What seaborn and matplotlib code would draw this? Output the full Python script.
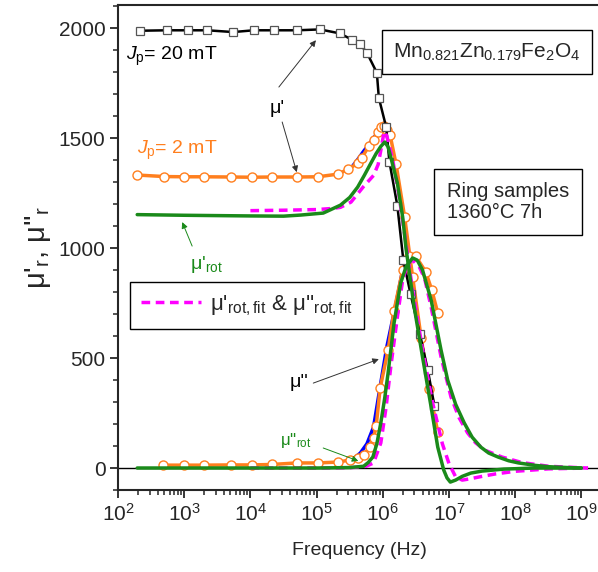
import numpy as np
import matplotlib
matplotlib.use("Agg")
import matplotlib.pyplot as plt
import matplotlib.ticker as ticker
import seaborn as sns

# frequencies are given as log10(f / Hz)
# Jp = 20 mT, mu' (black squares)
logf_20 = [2.33, 2.74, 3.05, 3.35, 3.74, 4.05, 4.35, 4.71, 5.05, 5.35, 5.53, 5.66, 5.76,
           5.91, 5.94, 6.05, 6.10, 6.22, 6.31, 6.42, 6.56, 6.68, 6.78]
mu1_20 = [1988, 1990, 1990, 1990, 1982, 1990, 1990, 1990, 1994, 1976, 1948, 1926, 1888,
          1797, 1683, 1551, 1392, 1192, 945, 790, 610, 445, 282]

# Jp = 2 mT (orange circles)
logf_2a = [2.29, 2.70, 3.00, 3.30, 3.70, 4.02, 4.32, 4.70, 5.02, 5.32, 5.48, 5.62, 5.68,
           5.79, 5.86, 5.93, 5.97, 6.02, 6.07, 6.11, 6.20, 6.33, 6.45, 6.58, 6.70, 6.83]
mu1_2 = [1332, 1325, 1324, 1324, 1323, 1322, 1323, 1323, 1324, 1336, 1359, 1386, 1409,
         1464, 1491, 1527, 1550, 1555, 1536, 1514, 1382, 1141, 870, 590, 360, 164]
logf_2b = [2.68, 3.00, 3.30, 3.70, 4.02, 4.32, 4.70, 5.02, 5.32, 5.50, 5.62, 5.71, 5.80,
           5.86, 5.90, 5.96, 6.08, 6.17, 6.30, 6.39, 6.50, 6.65, 6.74, 6.83]
mu2_2 = [13, 13, 13, 14, 14, 16, 23, 23, 27, 36, 45, 59, 95,
         135, 190, 364, 536, 716, 900, 965, 962, 891, 809, 705]

# blue curve, mostly hidden under the orange one
logf_b1 = [5.55, 5.62, 5.71, 5.80, 5.86, 5.92]
mu1_b = [1375, 1402, 1440, 1475, 1500, 1525]
logf_b2 = [5.55, 5.66, 5.76, 5.86, 5.96, 6.06, 6.21, 6.30, 6.36]
mu2_b = [40, 68, 110, 186, 370, 550, 764, 900, 960]

# rotational contribution (green)
logf_rot1 = [2.29, 3.0, 4.0, 4.5, 4.76, 5.1, 5.36, 5.5, 5.62, 5.72, 5.82, 5.9, 5.97, 6.03,
             6.08, 6.12, 6.22, 6.30, 6.35, 6.47, 6.60, 6.73, 6.83, 6.92, 6.97, 7.02, 7.1,
             7.2, 7.33, 7.5, 7.83, 8.3, 8.7, 9.0]
mu1_rot = [1152, 1149, 1146, 1145, 1150, 1159, 1195, 1230, 1277, 1330, 1386, 1430, 1462, 1482,
           1460, 1414, 1295, 1141, 1000, 740, 505, 277, 95, -9, -45, -64, -55,
           -38, -23, -14, -5, 0, 0, 0]
logf_rot2 = [2.29, 4.0, 5.0, 5.5, 5.71, 5.78, 5.85, 5.91, 5.97, 6.03, 6.08, 6.17, 6.27, 6.35,
             6.45, 6.52, 6.6, 6.73, 6.88, 6.98, 7.1, 7.23, 7.35, 7.48, 7.6, 7.74, 7.9, 8.05,
             8.3, 8.5, 8.8, 9.0]
mu2_rot = [0, 0, 0, 2, 8, 25, 50, 110, 205, 320, 432, 659, 841, 914,
           955, 945, 900, 764, 536, 400, 290, 205, 140, 95, 68, 50, 33, 23,
           12, 6, 2, 0]

# fit of the rotational contribution (magenta dashed)
logf_fit1 = [4.0, 4.5, 5.0, 5.24, 5.36, 5.52, 5.71, 5.86, 5.93, 5.98, 6.02, 6.06, 6.15, 6.25,
             6.35, 6.45, 6.6, 6.75, 6.9, 7.0, 7.1, 7.2, 7.3, 7.5, 7.7, 8.0, 8.5, 9.1]
mu1_fit = [1170, 1172, 1175, 1180, 1185, 1209, 1280, 1330, 1380, 1460, 1530, 1510, 1400, 1230,
           1020, 810, 540, 300, 110, 20, -40, -55, -50, -38, -27, -15, -4, 0]
logf_fit2 = [4.0, 5.0, 5.5, 5.75, 5.86, 5.97, 6.05, 6.12, 6.22, 6.30, 6.38, 6.45, 6.55, 6.63,
             6.73, 6.88, 7.03, 7.15, 7.28, 7.4, 7.55, 7.8, 8.1, 8.5, 9.0, 9.1]
mu2_fit = [0, 0, 1, 8, 23, 114, 277, 459, 686, 855, 930, 945, 915, 864,
           732, 505, 323, 230, 160, 115, 80, 50, 25, 8, 1, 0]

sns.set_style("ticks")
plt.rcParams['font.family'] = ['Liberation Sans', 'DejaVu Sans']
plt.rcParams['mathtext.fontset'] = 'custom'
plt.rcParams['mathtext.rm'] = 'Liberation Sans'
plt.rcParams['mathtext.it'] = 'Liberation Sans:italic'
plt.rcParams['mathtext.default'] = 'regular'

ORANGE = "#ff7f1e"
GREEN = "#1a8a1a"
MAGENTA = "#ff00ff"

fig = plt.figure(figsize=(5.98, 5.72), dpi=100)
ax = fig.add_axes([118 / 598, 82 / 572, 482 / 598, 485 / 572])


def hz(logs):
    return 10 ** np.array(logs)


def line(x, y, **kw):
    sns.lineplot(x=hz(x), y=y, ax=ax, sort=False, estimator=None, legend=False, **kw)


ax.axhline(0, color="black", lw=1, zorder=1)

line(logf_b1, mu1_b, color="blue", lw=2.5, zorder=2)
line(logf_b2, mu2_b, color="blue", lw=2.5, zorder=2)

circ = dict(marker="o", ms=6.5, mfc="white", mec=ORANGE, mew=1)
line(logf_2a, mu1_2, color=ORANGE, lw=2.5, zorder=3, **circ)
line(logf_2b, mu2_2, color=ORANGE, lw=2.5, zorder=3, **circ)

line(logf_20, mu1_20, color="black", lw=1.8, zorder=4,
     marker="s", ms=5.5, mfc="white", mec="#555555", mew=0.9)

line(logf_fit1, mu1_fit, color=MAGENTA, lw=2.5, ls=(0, (2.5, 1.6)), zorder=5)
line(logf_fit2, mu2_fit, color=MAGENTA, lw=2.5, ls=(0, (2.5, 1.6)), zorder=5)

line(logf_rot1, mu1_rot, color=GREEN, lw=2.5, zorder=6)
line(logf_rot2, mu2_rot, color=GREEN, lw=2.5, zorder=6)

ax.set_xscale("log")
ax.set_xlim(1e2, 10 ** (2 + 482 / 66.2))
ax.set_ylim(-100, 2105)
ax.xaxis.set_major_locator(ticker.LogLocator(base=10, numticks=12))
ax.xaxis.set_minor_locator(ticker.LogLocator(base=10, subs=np.arange(2, 10), numticks=12))
ax.xaxis.set_minor_formatter(ticker.NullFormatter())
ax.yaxis.set_major_locator(ticker.MultipleLocator(500))
ax.yaxis.set_minor_locator(ticker.MultipleLocator(100))
ax.tick_params(which="major", direction="out", length=6, width=1.3, labelsize=15, pad=3)
ax.tick_params(which="minor", direction="out", length=3.5, width=1.1)
for s in ax.spines.values():
    s.set_linewidth(1.5)
ax.spines["right"].set_visible(False)

ax.set_xlabel("Frequency (Hz)", fontsize=14, labelpad=13)
ax.set_ylabel("μ'$_r$, μ''$_r$", fontsize=21, labelpad=4)

# annotations
ax.text(10 ** 2.12, 1870, "$\\mathit{J}_p$= 20 mT", fontsize=14, color="black", va="center")
ax.text(10 ** 2.29, 1445, "$\\mathit{J}_p$= 2 mT", fontsize=14, color=ORANGE, va="center")
ax.text(10 ** 4.40, 1636, "μ'", fontsize=14, color="black", ha="center", va="center")
ax.text(10 ** 3.09, 923, "μ'$_{rot}$", fontsize=14, color=GREEN, va="center")
ax.text(10 ** 4.60, 391, "μ''", fontsize=14, color="black", va="center")
ax.text(10 ** 4.45, 127, "μ''$_{rot}$", fontsize=12, color=GREEN, va="center")

arr = dict(arrowstyle="-|>", color="#333333", lw=0.7, mutation_scale=9, shrinkA=0, shrinkB=0)
ax.annotate("", xy=(10 ** 4.99, 1945), xytext=(10 ** 4.43, 1732), arrowprops=arr)
ax.annotate("", xy=(10 ** 4.70, 1345), xytext=(10 ** 4.48, 1573), arrowprops=arr)
ax.annotate("", xy=(10 ** 5.94, 495), xytext=(10 ** 4.95, 386), arrowprops=arr)
arr_g = dict(arr, color=GREEN)
ax.annotate("", xy=(10 ** 2.97, 1118), xytext=(10 ** 3.12, 1009), arrowprops=arr_g)
ax.annotate("", xy=(10 ** 5.63, 32), xytext=(10 ** 5.10, 91), arrowprops=arr_g)

ax.text(10 ** 7.57, 1891, "Mn$_{0.821}$Zn$_{0.179}$Fe$_2$O$_4$", fontsize=15,
        ha="center", va="center",
        bbox=dict(boxstyle="square,pad=0.55", fc="white", ec="black", lw=1))
ax.text(10 ** 6.97, 1209, "Ring samples\n1360°C 7h", fontsize=14.5, ha="left", va="center",
        linespacing=1.15,
        bbox=dict(boxstyle="square,pad=0.65", fc="white", ec="black", lw=1))

fit_handle = ax.get_lines()[-4]
leg = ax.legend([fit_handle], ["μ'$_{rot,fit}$ & μ''$_{rot,fit}$"], loc="upper left",
                bbox_to_anchor=(130 / 598, 1 - 282 / 572), bbox_transform=fig.transFigure,
                fontsize=16, fancybox=False, edgecolor="black", framealpha=1,
                handlelength=2.7, borderaxespad=0, borderpad=0.5, handletextpad=0.4)
leg.get_frame().set_linewidth(1)

fig.savefig("out.png", dpi=100)
